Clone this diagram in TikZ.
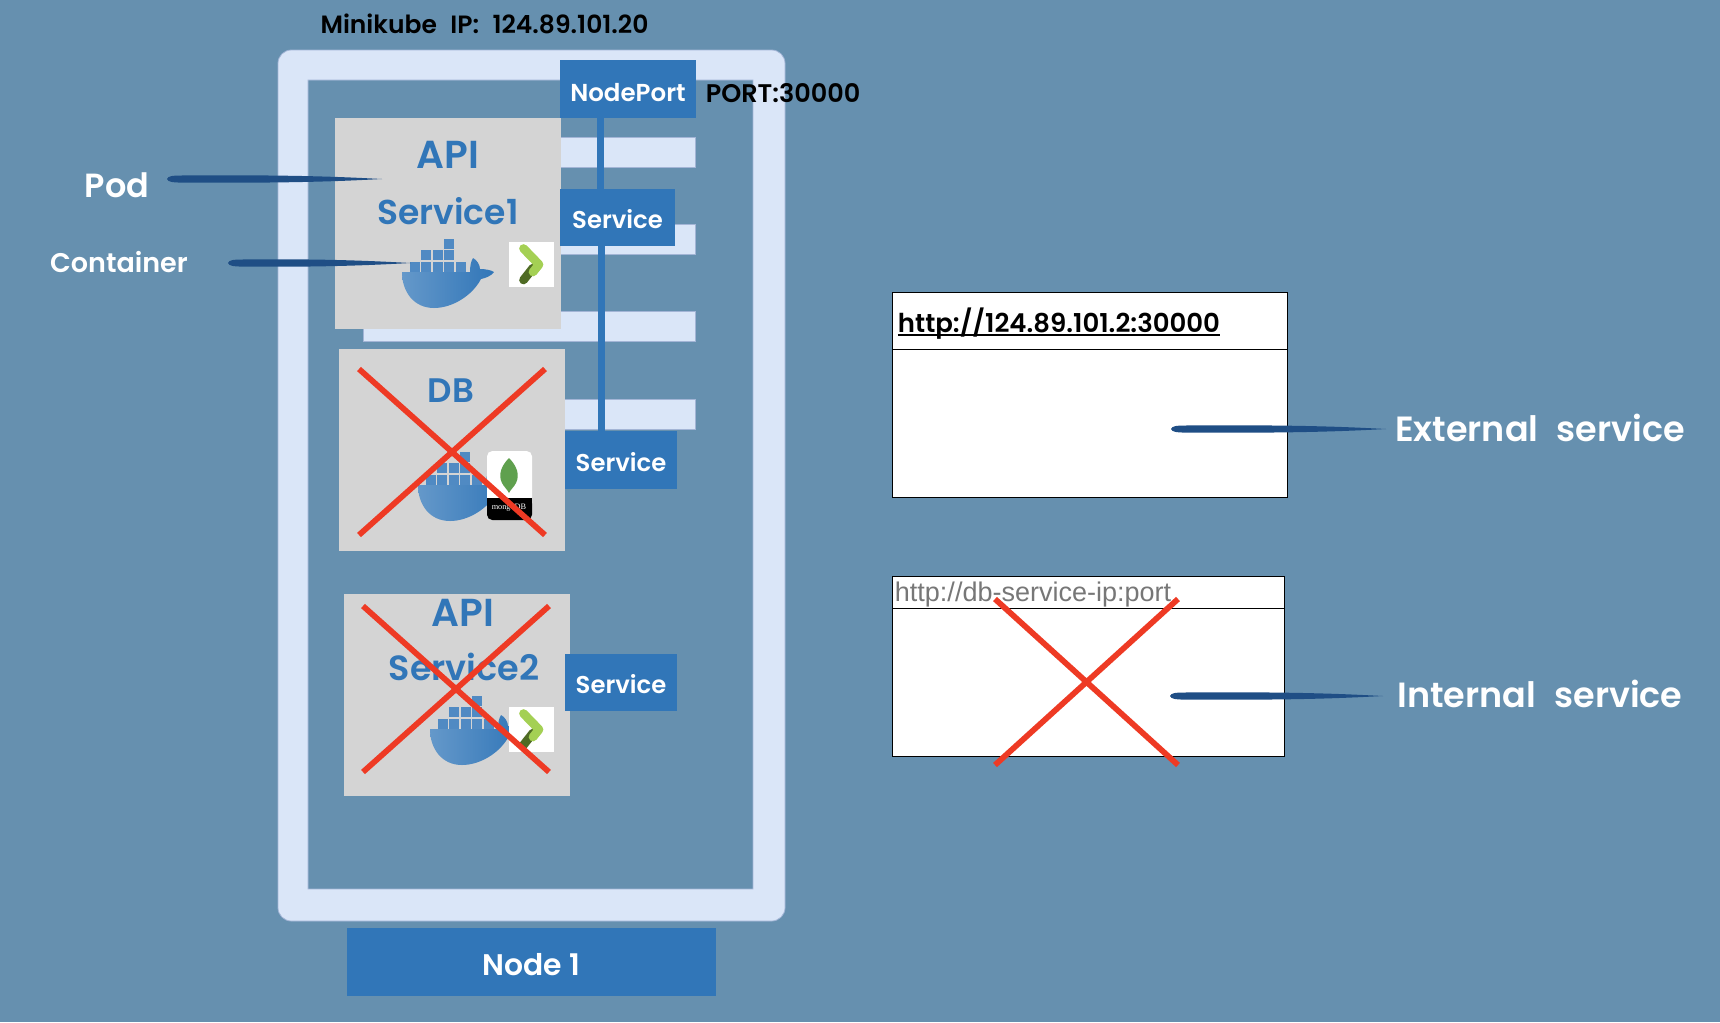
\documentclass[tikz,border=0pt]{standalone}
\usepackage{fontspec}
\usetikzlibrary{calc}
\newfontfamily\hand{Poppins}[BoldFont={Poppins SemiBold}]
\newfontfamily\arialish{Liberation Sans}
\newfontfamily\serifish{Liberation Serif}
\definecolor{bg}{HTML}{6690AF}
\definecolor{frameC}{HTML}{DAE6F8}
\definecolor{frameE}{HTML}{A3B5D6}
\definecolor{kblue}{HTML}{3176B8}
\definecolor{podC}{HTML}{D4D4D4}
\definecolor{crossC}{HTML}{EE3A24}
\definecolor{inkC}{HTML}{1F4E85}
\definecolor{limeC}{HTML}{A4D054}
\definecolor{oliveC}{HTML}{4F6B24}
\definecolor{leafC}{HTML}{5FA04E}
\definecolor{greyT}{HTML}{777777}
\newcommand\hf[1]{\hand\bfseries\fontsize{\dimexpr #1pt*3/4\relax}{\dimexpr #1pt\relax}\selectfont}
\newcommand\wsp[1]{ \hspace*{#1em}}
\tikzset{
  sized/.style 2 args={minimum width=#1*0.75pt,minimum height=#2*0.75pt,inner sep=0pt,outer sep=0pt},
  drop/.style={text height=#1*0.75pt,text depth=0pt},
  frameshape/.style={fill=frameC,draw=frameE,line width=0.6pt},
  barshape/.style={fill=frameC,draw=frameE,line width=0.5pt},
  pod/.style={fill=podC},
  bluebox/.style={fill=kblue,text=white},
  label/.style={anchor=base,inner sep=0pt,outer sep=0pt},
  wlabel/.style={label,text=white},
  blabel/.style={label,text=kblue},
  klabel/.style={label,text=black},
  link/.style={draw=kblue,line width=5.2pt},
  crossline/.style={draw=crossC,line width=4.3pt},
  window/.style={fill=white,draw=black,line width=0.7pt},
  ink/.style={fill=inkC},
  whale/.pic={
    \shade[left color=kblue!75!white,right color=kblue]
      (0,0) -- (68,0) .. controls (68,-6) and (69,-11) .. (71,-14)
      .. controls (75,-12) and (78,-7) .. (78,-3)
      .. controls (83,-3) and (89,-2) .. (92,0)
      .. controls (89,4) and (84,6) .. (79,7)
      .. controls (70,24) and (50,36) .. (32,36)
      .. controls (12,36) and (0,20) .. (0,0) -- cycle;
    \foreach \cx in {0,1,2,3,4}
      \fill[kblue!85!white] (7.7+11.5*\cx,-10.3) rectangle ++(9.8,9.8);
    \foreach \cx in {1,2,3}
      \fill[kblue!85!white] (7.7+11.5*\cx,-21.8) rectangle ++(9.8,9.8);
    \fill[kblue!85!white] (7.7+34.5,-33.3) rectangle ++(9.8,9.8);
  },
  chevron/.pic={
    \fill[white] (0,0) rectangle (45,45);
    \draw[oliveC,line width=6.5pt,line cap=round] (14.5,38) -- (24,26);
    \draw[limeC,line width=6.5pt,line cap=round,line join=round] (14.5,6.5) -- (30,22.5) -- (24,30);
  },
  mongo/.pic={
    \fill[white,rounded corners=4pt] (0,0) rectangle (45,52);
    \fill[black,rounded corners=4pt] (0,47) rectangle (45,69);
    \fill[black] (0,47) rectangle (45,55);
    \fill[leafC] (22,7) .. controls (14,15) and (11,24) .. (15,32) .. controls (17,36) and (20,38) .. (22,42)
      .. controls (24,38) and (27,36) .. (29,32) .. controls (33,24) and (30,15) .. (22,7) -- cycle;
    \node[inner sep=0pt,text=white,font=\serifish\fontsize{6.2}{7}\selectfont] (mongotext) at (22,57) {mongoDB};
  }
}
\newcommand\brushline[2]{%
  \fill[ink] (#1) .. controls ($(#1)+(1,-3)$) and ($(#1)+(6,-3.6)$) .. ($(#1)+(14,-3.5)$)
   .. controls ($(#2)+(-80,-4.5)$) and ($(#2)+(-30,-1.5)$) .. (#2)
   .. controls ($(#2)+(-30,1.5)$) and ($(#2)+(-80,4.5)$) .. ($(#1)+(14,3.5)$)
   .. controls ($(#1)+(6,3.6)$) and ($(#1)+(1,3)$) .. (#1) -- cycle;}
\begin{document}
\begin{tikzpicture}[x=0.75pt,y=-0.75pt]
\useasboundingbox (0,0) rectangle (1720,1022);
\fill[bg] (0,0) rectangle (1720,1022);

% node frame
\fill[frameshape,rounded corners=10pt,even odd rule]
  (278,50) rectangle (785,921) [sharp corners] (308,80) rectangle (753,889);
% worker bars
\node[barshape,sized={332}{30}] (barA) at (529,152) {};
\node[barshape,sized={332}{30}] (barB) at (529,239) {};
\node[barshape,sized={332}{30}] (barC) at (529,326.5) {};
\node[barshape,sized={332}{30}] (barD) at (529,414.5) {};

% pods
\node[pod,sized={226}{211}] (pod1) at (448,223.5) {};
\node[pod,sized={226}{202}] (pod2) at (452,450) {};
\node[pod,sized={226}{202}] (pod3) at (457,695) {};

% links
\coordinate (lineA) at (600.5,0);
\coordinate (lineB) at (601.5,0);

% boxes
\node[bluebox,sized={136}{58},drop=25,font=\hf{24.5}] (np) at (628,89) {NodePort};
\node[bluebox,sized={115}{57},drop=21,font=\hf{24.3}] (svc1) at (617.5,217.5) {Service};
\node[bluebox,sized={112}{58},drop=23,font=\hf{24.3}] (svc2) at (621,460) {Service};
\node[bluebox,sized={112}{57},drop=21,font=\hf{24.3}] (svc3) at (621,682.5) {Service};
\node[bluebox,sized={369}{68},drop=26,font=\hf{29.8}] (node1) at (531.5,962) {Node 1};
\draw[link] (np.south -| lineA) -- (svc1.north -| lineA);
\draw[link] (svc1.south -| lineB) -- (svc2.north -| lineB);

% pod labels
\node[blabel,font=\hf{39}] (apiA) at (448,168) {API};
\node[blabel,font=\hf{34.5}] (srvA) at (448,224) {Service1};
\node[blabel,font=\hf{34}] (dbT) at (451,402) {DB};
\node[blabel,font=\hf{39}] (apiB) at (463,626) {API};
\node[blabel,font=\hf{35}] (srvB) at (464,680) {Service2};

% icons
\pic at (402,272) {whale};
\pic at (509,242) {chevron};
\pic at (418,485) {whale};
\pic at (487,451) {mongo};
\pic at (430,729) {whale};
\pic at (509,707) {chevron};

% crosses on pods
\draw[crossline] (359,369) -- (545,535);
\draw[crossline] (545,369) -- (359,535);
\draw[crossline] (363,606) -- (549,772);
\draw[crossline] (549,606) -- (363,772);

% outside labels
\node[klabel,font=\hf{25}] (mini) at (484.5,33) {Minikube\wsp{.3}IP:\wsp{.3}124.89.101.20};
\node[klabel,font=\hf{25.5}] (port) at (783,102) {PORT:30000};
\node[wlabel,font=\hf{33.5}] (podT) at (117,197.5) {Pod};
\node[wlabel,font=\hf{27}] (contT) at (119,272) {Container};

% windows
\node[window,sized={395}{205}] (ext) at (1089.5,394.5) {};
\node[window,sized={392}{180}] (int) at (1088,666) {};
\coordinate (extH) at (0,349);
\coordinate (intH) at (0,608);
\draw[line width=0.7pt] (ext.west |- extH) -- (ext.east |- extH);
\draw[line width=0.7pt] (int.west |- intH) -- (int.east |- intH);
\node[klabel,font=\hf{26}] (url) at (1059,332) {http://124.89.101.2:30000};
\draw[black,line width=0.9pt] ($(url.base west)+(0,3)$) -- ($(url.base east)+(0,3)$);
\node[label,text=greyT,font=\arialish\fontsize{20.25}{24}\selectfont] (urlB) at (1033,601.6) {http://db-service-ip:port};
\draw[crossline] (995,599) -- (1178,765);
\draw[crossline] (1178,599) -- (995,765);

% leader strokes
\coordinate (podA) at (167,179);   \coordinate (podB) at (382,179);
\coordinate (contA) at (228,263);  \coordinate (contB) at (411,263);
\coordinate (extA) at (1171,429);  \coordinate (extB) at (1386,429);
\coordinate (intA) at (1170,696);  \coordinate (intB) at (1383,696);
\brushline{podA}{podB}
\brushline{contA}{contB}
\brushline{extA}{extB}
\brushline{intA}{intB}
\node[wlabel,font=\hf{35}] (extT) at (1540,441) {External\wsp{.28}service};
\node[wlabel,font=\hf{35}] (intT) at (1540,707) {Internal\wsp{.28}service};
\end{tikzpicture}
\end{document}
